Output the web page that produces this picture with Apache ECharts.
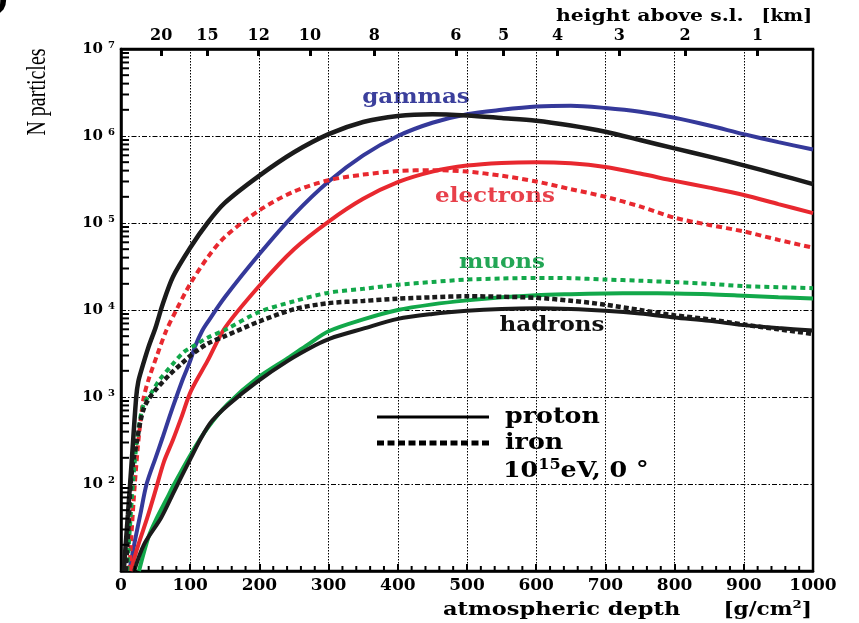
<!DOCTYPE html>
<html>
<head>
<meta charset="utf-8">
<title>Air shower longitudinal development</title>
<script src="https://cdn.jsdelivr.net/npm/echarts@6/dist/echarts.min.js"></script>
<style>
  html, body { margin: 0; padding: 0; background: #fff; }
  #chart { width: 859px; height: 623px; }
</style>
</head>
<body>
<div id="chart"></div>
<script>
// Number of shower particles versus atmospheric depth [g/cm^2], 10^15 eV, vertical.
// Each series: [depth, N] pairs.
const gammasProton = [
  [12, 10], [20, 22], [28, 45], [37, 100], [50, 200], [60, 340], [70, 590], [80, 1000],
  [90, 1650], [100, 2600], [107, 3800], [117, 5700], [125, 7200], [150, 14000],
  [200, 44000], [250, 125000], [300, 300000], [350, 600000], [400, 1000000],
  [450, 1420000], [500, 1780000], [550, 2000000], [600, 2180000], [650, 2230000],
  [700, 2100000], [750, 1900000], [800, 1620000], [850, 1320000], [900, 1050000],
  [950, 850000], [1000, 700000]
];
const gammasIron = [
  [4, 10], [10, 45], [16, 210], [22, 1000], [25, 1500], [30, 2100], [40, 3800], [50, 6300],
  [60, 11500], [75, 24000], [100, 52000], [125, 100000], [150, 170000], [200, 350000],
  [250, 650000], [300, 1050000], [350, 1450000], [400, 1700000], [450, 1780000],
  [500, 1720000], [550, 1610000], [600, 1500000], [650, 1320000], [700, 1120000],
  [750, 900000], [800, 720000], [850, 580000], [900, 460000], [950, 360000], [1000, 280000]
];
const electronsProton = [
  [14, 10], [25, 20], [38, 41], [50, 85], [62, 180], [75, 320], [87, 575], [101, 1170],
  [125, 2600], [150, 6200], [200, 19000], [250, 50000], [300, 104000], [350, 190000],
  [400, 295000], [450, 390000], [500, 457000], [550, 490000], [600, 500000],
  [650, 485000], [700, 440000], [750, 370000], [800, 305000], [850, 255000],
  [900, 210000], [950, 165000], [1000, 130000]
];
const electronsIron = [
  [12, 10], [18, 60], [24, 250], [29, 600], [33, 1000], [40, 1600], [52, 3000], [65, 5700],
  [80, 10000], [100, 20000], [125, 40000], [150, 69000], [200, 140000], [250, 230000],
  [300, 310000], [350, 360000], [400, 395000], [450, 405000], [500, 390000],
  [550, 350000], [600, 300000], [650, 245000], [700, 200000], [750, 155000],
  [800, 115000], [850, 95000], [900, 80000], [950, 64000], [1000, 52000]
];
const muonsProton = [
  [26, 10], [40, 25], [52, 41], [65, 65], [77, 100], [101, 220], [125, 440], [154, 830],
  [197, 1650], [241, 2800], [270, 4000], [300, 5700], [350, 7800], [400, 10000],
  [450, 11600], [500, 12900], [550, 14000], [600, 14800], [650, 15200], [700, 15500],
  [750, 15600], [800, 15500], [850, 15200], [900, 14600], [950, 14000], [1000, 13600]
];
const muonsIron = [
  [9, 10], [16, 75], [23, 320], [30, 700], [36, 920], [45, 1150], [55, 1550], [75, 2400],
  [91, 3300], [106, 3900], [125, 4800], [150, 5900], [200, 9500], [250, 12600],
  [300, 15800], [350, 17500], [400, 19500], [450, 21000], [500, 22400], [550, 23000],
  [600, 23400], [650, 23200], [700, 22400], [750, 21700], [800, 20900], [850, 20000],
  [900, 18800], [950, 18300], [1000, 17800]
];
const hadronsProton = [
  [19, 10], [33, 20], [58, 41], [77, 83], [101, 200], [116, 340], [131, 525], [154, 800],
  [197, 1500], [241, 2600], [280, 3900], [302, 4700], [350, 6100], [400, 7900],
  [450, 9000], [500, 9800], [550, 10300], [600, 10500], [650, 10300], [700, 9800],
  [750, 9100], [800, 8200], [850, 7500], [900, 6700], [950, 6200], [1000, 5800]
];
const hadronsIron = [
  [7, 10], [11, 35], [14, 100], [18, 190], [23, 310], [28, 520], [33, 740], [40, 950],
  [52, 1260], [70, 1800], [87, 2400], [105, 3200], [125, 4100], [150, 5000], [200, 7400],
  [250, 10200], [300, 12000], [350, 12700], [400, 13500], [450, 14000], [500, 14400],
  [550, 14200], [600, 13800], [650, 12800], [700, 11500], [750, 10000], [800, 8700],
  [850, 7800], [900, 6800], [950, 6000], [1000, 5300]
];

// Upper axis: altitude above sea level and the matching vertical depth.
const heightKm = [20, 15, 12, 10, 8, 6, 5, 4, 3, 2, 1];
const heightDepth = [58, 125, 199, 273, 366, 484, 553, 631, 720, 815, 920];

const BLACK = '#1b1b1b';
const BLUE = '#35399a';
const RED = '#e8282f';
const GREEN = '#12a84a';
const SERIF_B = 'DejaVu Serif';
const TEXT_STRETCH = 1.15;

// Minor ticks of the logarithmic axis: 2..9 x 10^n.
const logMinorTicks = [];
for (let e = 1; e < 7; e++) {
  for (let m = 2; m <= 9; m++) logMinorTicks.push(m * Math.pow(10, e));
}
// Minor ticks of the depth axis every 20 g/cm^2.
const depthMinorTicks = [];
for (let d = 20; d < 1000; d += 20) {
  if (d % 100 !== 0) depthMinorTicks.push(d);
}

const chart = echarts.init(document.getElementById('chart'), null, { renderer: 'canvas' });

function line(name, data, color, dotted, width, z) {
  return {
    name: name,
    type: 'line',
    data: data,
    showSymbol: false,
    symbol: 'none',
    smooth: 0.3,
    clip: true,
    z: z,
    lineStyle: {
      color: color,
      width: width,
      type: dotted ? dotted : 'solid',
      cap: 'butt'
    }
  };
}

function label(text, x, y, color, size) {
  return {
    type: 'text', x: x, y: y, scaleX: TEXT_STRETCH,
    style: { text: text, font: 'bold ' + size + 'px DejaVu Serif', fill: color,
             align: 'center', verticalAlign: 'middle' }
  };
}

const graphics = [
  { type: 'text', x: -6, y: -14, style: { text: ')', font: 'bold 32px DejaVu Serif', fill: '#000' } },
  {
    type: 'text', x: 38, y: 92, rotation: Math.PI / 2, scaleX: 0.74,
    style: { text: 'N particles', font: '27px "Liberation Serif"', fill: '#000',
             align: 'center', verticalAlign: 'middle' }
  },
  {
    type: 'text', x: 556, y: 17, scaleX: 1.2,
    style: { text: 'height above s.l.', font: 'bold 17px DejaVu Serif', fill: '#000',
             align: 'left', verticalAlign: 'middle' }
  },
  {
    type: 'text', x: 812, y: 17, scaleX: 1.1,
    style: { text: '[km]', font: 'bold 17px DejaVu Serif', fill: '#000',
             align: 'right', verticalAlign: 'middle' }
  },
  {
    type: 'text', x: 443, y: 610, scaleX: 1.25,
    style: { text: 'atmospheric depth', font: 'bold 18px DejaVu Serif', fill: '#000',
             align: 'left', verticalAlign: 'middle' }
  },
  {
    type: 'text', x: 812, y: 610, scaleX: 1.2,
    style: {
      text: '{t|[g/cm}{s|2}{t|]}',
      rich: {
        t: { font: 'bold 18px DejaVu Serif', fill: '#000', lineHeight: 20 },
        s: { font: 'bold 11px DejaVu Serif', fill: '#000', verticalAlign: 'top', lineHeight: 20 }
      },
      align: 'right',
      verticalAlign: 'middle'
    }
  },
  label('gammas', 416, 98, '#3b3f9c', 20),
  label('electrons', 495, 197, '#e8404a', 20),
  label('muons', 502, 263, '#22a655', 20),
  label('hadrons', 552, 326, '#111', 20),
  // legend
  { type: 'line', shape: { x1: 377, y1: 417, x2: 489, y2: 417 }, style: { stroke: '#000', lineWidth: 3 } },
  { type: 'line', shape: { x1: 377, y1: 443, x2: 489, y2: 443 }, style: { stroke: '#000', lineWidth: 5, lineDash: [7, 3.5] } },
  { type: 'text', x: 505, y: 417, scaleX: TEXT_STRETCH, style: { text: 'proton', font: 'bold 22px DejaVu Serif', fill: '#000', verticalAlign: 'middle' } },
  { type: 'text', x: 505, y: 443, scaleX: TEXT_STRETCH, style: { text: 'iron', font: 'bold 22px DejaVu Serif', fill: '#000', verticalAlign: 'middle' } },
  {
    type: 'text', x: 503, y: 471, scaleX: TEXT_STRETCH,
    style: {
      text: '{n|10}{s|15}{n|eV, 0 °}',
      rich: {
        n: { font: 'bold 22px DejaVu Serif', fill: '#000', lineHeight: 26 },
        s: { font: 'bold 14px DejaVu Serif', fill: '#000', verticalAlign: 'top', lineHeight: 26 }
      },
      verticalAlign: 'middle'
    }
  }
];

const option = {
  animation: false,
  backgroundColor: '#fff',
  grid: {
    left: 121, right: 46, top: 49, bottom: 52,
    show: true, borderColor: '#000', borderWidth: 2.5, backgroundColor: 'transparent'
  },
  xAxis: [
    {
      type: 'value', position: 'bottom', min: 0, max: 1000, interval: 100,
      axisLine: { show: true, lineStyle: { color: '#000', width: 2.5 } },
      axisTick: { show: true, inside: true, length: 7, lineStyle: { color: '#000', width: 2 } },
      axisLabel: {
        margin: 6, color: '#000', fontFamily: SERIF_B, fontWeight: 'bold', fontSize: 17,
        formatter: function (v) { return String(v); }
      },
      splitLine: { show: true, lineStyle: { color: '#000', width: 1, type: [1.5, 1.5] } }
    },
    {
      type: 'value', position: 'top', min: 0, max: 1000,
      axisLine: { show: true, lineStyle: { color: '#000', width: 2.5 } },
      axisTick: {
        show: true, inside: true, length: 7, customValues: heightDepth,
        lineStyle: { color: '#000', width: 3 }
      },
      axisLabel: {
        margin: 5, color: '#000', fontFamily: SERIF_B, fontWeight: 'bold', fontSize: 16,
        customValues: heightDepth,
        formatter: function (v) {
          let best = 0;
          for (let i = 1; i < heightDepth.length; i++) {
            if (Math.abs(heightDepth[i] - v) < Math.abs(heightDepth[best] - v)) best = i;
          }
          return String(heightKm[best]);
        }
      },
      splitLine: { show: false }
    }
  ],
  yAxis: {
    type: 'log', logBase: 10, min: 10, max: 1e7, splitNumber: 6, position: 'left',
    axisLine: { show: true, lineStyle: { color: '#000', width: 2.5 } },
    axisTick: { show: false },
    axisLabel: {
      margin: 6,
      formatter: function (v) {
        const e = Math.round(Math.log10(v));
        if (e <= 1) return '';
        return '{b|10}{e|' + e + '}';
      },
      rich: {
        b: { fontFamily: SERIF_B, fontWeight: 'bold', fontSize: 15, color: '#000', lineHeight: 18 },
        e: { fontFamily: SERIF_B, fontWeight: 'bold', fontSize: 10, color: '#000',
             verticalAlign: 'top', padding: [0, 0, 0, 5], lineHeight: 18 }
      }
    },
    splitLine: { show: true, lineStyle: { color: '#000', width: 1, type: [5, 2, 1.5, 2] } }
  },
  series: [
    line('gammas proton', gammasProton, BLUE, null, 4, 2),
    line('electrons iron', electronsIron, RED, [6, 4], 4, 3),
    line('electrons proton', electronsProton, RED, null, 4, 4),
    line('muons iron', muonsIron, GREEN, [5, 4], 4, 5),
    line('muons proton', muonsProton, GREEN, null, 4, 6),
    line('gammas iron', gammasIron, BLACK, null, 4.5, 7),
    line('hadrons iron', hadronsIron, BLACK, [5, 3], 4.5, 8),
    line('hadrons proton', hadronsProton, BLACK, null, 4, 9)
  ],
  graphic: graphics
};

chart.setOption(option);

// Minor tick marks: positions come from the chart's own axis scales.
const finder = { seriesIndex: 0 };
const tickMarks = [];
logMinorTicks.forEach(function (v) {
  const p = chart.convertToPixel(finder, [0, v]);
  if (p && isFinite(p[1])) {
    tickMarks.push({
      type: 'line', z: 100,
      shape: { x1: p[0], y1: p[1], x2: p[0] + 8, y2: p[1] },
      style: { stroke: '#000', lineWidth: 2 }
    });
  }
});
depthMinorTicks.forEach(function (d) {
  const p = chart.convertToPixel(finder, [d, 10]);
  if (p && isFinite(p[0])) {
    tickMarks.push({
      type: 'line', z: 100,
      shape: { x1: p[0], y1: p[1], x2: p[0], y2: p[1] - 5 },
      style: { stroke: '#000', lineWidth: 2 }
    });
  }
});
chart.setOption({ graphic: graphics.concat(tickMarks) });
</script>
</body>
</html>
